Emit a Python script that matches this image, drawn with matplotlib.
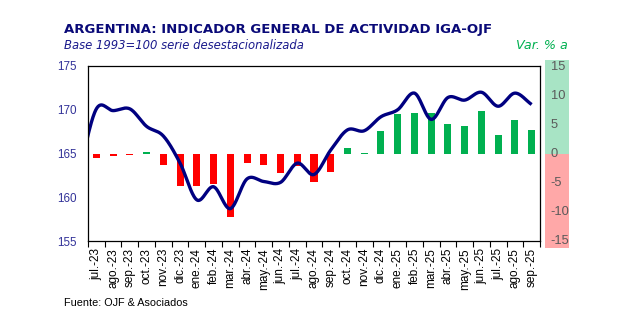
import numpy as np
import matplotlib
matplotlib.use("Agg")
import matplotlib.pyplot as plt
from matplotlib.ticker import FixedLocator, NullFormatter

# ---------------- data ----------------
months = ["jul.-23", "ago.-23", "sep.-23", "oct.-23", "nov.-23", "dic.-23",
          "ene.-24", "feb.-24", "mar.-24", "abr.-24", "may.-24", "jun.-24",
          "jul.-24", "ago.-24", "sep.-24", "oct.-24", "nov.-24", "dic.-24",
          "ene.-25", "feb.-25", "mar.-25", "abr.-25", "may.-25", "jun.-25",
          "jul.-25", "ago.-25", "sep.-25"]

# IGA index (base 1993=100, s.a.); first value is jun.-23 (before the visible range)
iga_prev = 163.2
iga = [170.1, 169.9, 170.1, 168.1, 167.0, 163.9,
       159.7, 161.2, 158.7, 162.1, 161.8, 161.7,
       163.9, 162.6, 165.4, 167.7, 167.6, 169.2,
       170.0, 171.9, 168.9, 171.4, 171.1, 172.0,
       170.4, 171.9, 170.6]

# year-on-year variation (%)
var_ya = [-0.7, -0.4, -0.3, 0.3, -2.0, -5.6,
          -5.5, -5.2, -10.8, -1.6, -1.9, -3.3,
          -2.2, -4.8, -3.2, 1.0, 0.1, 3.8,
          6.8, 6.9, 6.9, 5.1, 4.8, 7.3,
          3.2, 5.8, 4.0]

left_ticks = [155, 160, 165, 170, 175]
right_ticks = [15, 10, 5, 0, -5, -10, -15]

# ---------------- styling ----------------
W, H = 627, 324
NAVY = "#000080"
RED = "#FF0000"
GREEN = "#00B050"

fig = plt.figure(figsize=(W / 100, H / 100), dpi=100)


def fax(x0, y0, x1, y1):
    return [x0 / W, 1 - y1 / H, (x1 - x0) / W, (y1 - y0) / H]


ax = fig.add_axes(fax(88, 66, 540, 241))
ax2 = ax.twinx()
ax.set_zorder(ax2.get_zorder() + 1)
ax.patch.set_visible(False)

n = len(months)
x = np.arange(n)

# bars on the secondary scale
colors = [GREEN if v >= 0 else RED for v in var_ya]
ax2.bar(x, var_ya, width=0.42, color=colors, linewidth=0)
ax2.set_ylim(-15, 15)
ax2.set_yticks([])
for s in ax2.spines.values():
    s.set_visible(False)

# smooth line (Catmull-Rom, as Excel's smoothed line)
py = np.array([iga_prev] + iga)
px = np.arange(-1, n)


def catmull(px, py, steps=30):
    P = np.concatenate([[2 * py[0] - py[1]], py, [2 * py[-1] - py[-2]]])
    X = np.concatenate([[2 * px[0] - px[1]], px, [2 * px[-1] - px[-2]]])
    xs, ys = [], []
    for i in range(1, len(P) - 2):
        t = np.linspace(0, 1, steps, endpoint=False)
        p0, p1, p2, p3 = P[i - 1], P[i], P[i + 1], P[i + 2]
        m1 = (p2 - p0) / 2
        m2 = (p3 - p1) / 2
        h00 = 2 * t**3 - 3 * t**2 + 1
        h10 = t**3 - 2 * t**2 + t
        h01 = -2 * t**3 + 3 * t**2
        h11 = t**3 - t**2
        ys.append(h00 * p1 + h10 * m1 + h01 * p2 + h11 * m2)
        xs.append(X[i] + t * (X[i + 1] - X[i]))
    xs.append([X[-2]])
    ys.append([P[-2]])
    return np.concatenate(xs), np.concatenate(ys)


sx, sy = catmull(px, py)
ax.plot(sx, sy, color=NAVY, lw=2.4, solid_capstyle="butt", clip_on=True)

ax.set_xlim(-0.5, n - 0.5)
ax.set_ylim(155, 175)
ax.set_yticks(left_ticks)
ax.tick_params(axis="y", length=0, pad=8, labelsize=8.4, labelcolor="#333399")
for lab in ax.get_yticklabels():
    lab.set_fontfamily("Liberation Sans")

ax.set_xticks(x)
ax.set_xticklabels(months, rotation=90, fontsize=8.5, fontfamily="Liberation Sans")
ax.tick_params(axis="x", which="major", length=0, pad=5)
ax.xaxis.set_minor_locator(FixedLocator(np.arange(-0.5, n, 1.0)))
ax.xaxis.set_minor_formatter(NullFormatter())
ax.tick_params(axis="x", which="minor", length=4, width=0.8, direction="out", color="black")
for s in ax.spines.values():
    s.set_linewidth(0.9)
    s.set_color("black")

# right colored scale band
bax = fig.add_axes(fax(545, 60, 569, 248))
bax.set_xlim(0, 1)
lim = 15 * (248 - 60) / (241 - 66)
bax.set_ylim(-lim, lim)
bax.axhspan(0, lim, color="#A8E4C5", lw=0)
bax.axhspan(-lim, 0, color="#FFA8A8", lw=0)
bax.axis("off")
for v in right_ticks:
    bax.text(0.24, v, str(v), ha="left", va="center", fontsize=9.3,
             color="#5A5A5A", fontfamily="Liberation Sans")

# titles


def fit_text(xpx, ypx, s, width_px, **kw):
    t = fig.text(xpx / W, 1 - ypx / H, s, **kw)
    r = fig.canvas.get_renderer()
    w = t.get_window_extent(renderer=r).width
    t.set_fontsize(t.get_fontsize() * width_px / w)
    return t


fit_text(64, 33, "ARGENTINA: INDICADOR GENERAL DE ACTIVIDAD IGA-OJF", 426,
         fontsize=10, fontweight="bold", color="#0A0A78", fontfamily="DejaVu Sans",
         va="baseline")
fit_text(64, 49, "Base 1993=100 serie desestacionalizada", 240,
         fontsize=9, style="italic", color="#1A1A8C", fontfamily="DejaVu Sans",
         va="baseline")
fit_text(516, 49, "Var. % a", 52,
         fontsize=9, style="italic", color="#00B050", fontfamily="DejaVu Sans",
         va="baseline")
fit_text(64, 306, "Fuente: OJF & Asociados", 123,
         fontsize=7, color="black", fontfamily="Liberation Sans", va="baseline")

fig.savefig("out.png", dpi=100)
